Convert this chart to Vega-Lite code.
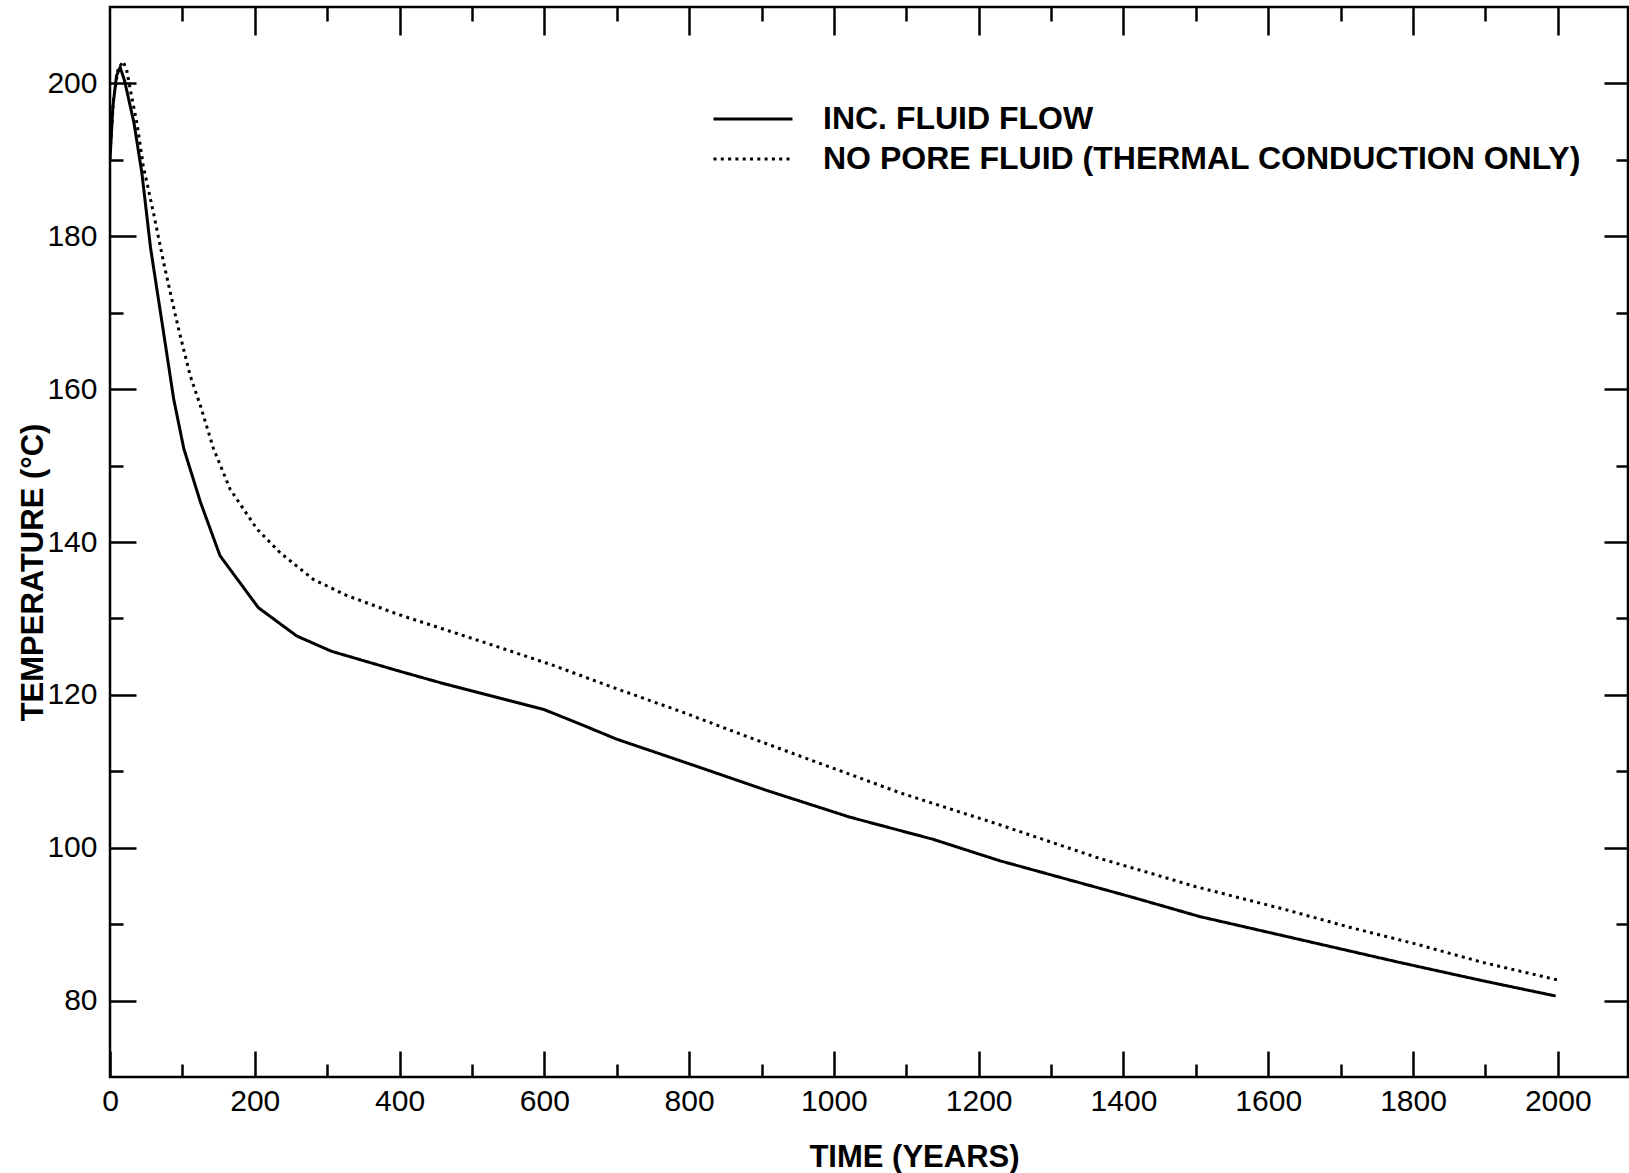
{
  "$schema": "https://vega.github.io/schema/vega-lite/v6.json",
  "width": 1518,
  "height": 1070,
  "autosize": {"type": "none"},
  "padding": {"left": 110, "top": 7, "right": 1, "bottom": 96},
  "background": "white",
  "config": {
    "view": {"stroke": "black", "strokeWidth": 2.5},
    "axis": {"grid": false, "domain": false, "tickColor": "black", "tickWidth": 2.5, "labelColor": "black", "titleColor": "black", "labelFont": "Liberation Sans", "titleFont": "Liberation Sans"},
    "line": {"color": "black", "strokeWidth": 3},
    "font": "Liberation Sans"
  },
  "data": {
    "values": [
      {"series": "INC. FLUID FLOW", "t": 0, "temp": 190},
      {"series": "INC. FLUID FLOW", "t": 4, "temp": 197},
      {"series": "INC. FLUID FLOW", "t": 9, "temp": 201},
      {"series": "INC. FLUID FLOW", "t": 14, "temp": 202.1},
      {"series": "INC. FLUID FLOW", "t": 20, "temp": 200.4},
      {"series": "INC. FLUID FLOW", "t": 33, "temp": 194.9},
      {"series": "INC. FLUID FLOW", "t": 44, "temp": 188.3},
      {"series": "INC. FLUID FLOW", "t": 56, "temp": 178.5},
      {"series": "INC. FLUID FLOW", "t": 74, "temp": 167.4},
      {"series": "INC. FLUID FLOW", "t": 88, "temp": 158.7},
      {"series": "INC. FLUID FLOW", "t": 102, "temp": 152.2},
      {"series": "INC. FLUID FLOW", "t": 125, "temp": 145.2},
      {"series": "INC. FLUID FLOW", "t": 152, "temp": 138.2},
      {"series": "INC. FLUID FLOW", "t": 205, "temp": 131.4},
      {"series": "INC. FLUID FLOW", "t": 258, "temp": 127.7},
      {"series": "INC. FLUID FLOW", "t": 306, "temp": 125.7},
      {"series": "INC. FLUID FLOW", "t": 396, "temp": 123.2},
      {"series": "INC. FLUID FLOW", "t": 456, "temp": 121.6},
      {"series": "INC. FLUID FLOW", "t": 525, "temp": 119.9},
      {"series": "INC. FLUID FLOW", "t": 599, "temp": 118.1},
      {"series": "INC. FLUID FLOW", "t": 654, "temp": 116.0},
      {"series": "INC. FLUID FLOW", "t": 700, "temp": 114.2},
      {"series": "INC. FLUID FLOW", "t": 815, "temp": 110.5},
      {"series": "INC. FLUID FLOW", "t": 907, "temp": 107.5},
      {"series": "INC. FLUID FLOW", "t": 1022, "temp": 104.0},
      {"series": "INC. FLUID FLOW", "t": 1137, "temp": 101.1},
      {"series": "INC. FLUID FLOW", "t": 1229, "temp": 98.3},
      {"series": "INC. FLUID FLOW", "t": 1321, "temp": 95.9},
      {"series": "INC. FLUID FLOW", "t": 1413, "temp": 93.5},
      {"series": "INC. FLUID FLOW", "t": 1505, "temp": 91.0},
      {"series": "INC. FLUID FLOW", "t": 1597, "temp": 89.0},
      {"series": "INC. FLUID FLOW", "t": 1689, "temp": 87.0},
      {"series": "INC. FLUID FLOW", "t": 1781, "temp": 85.0},
      {"series": "INC. FLUID FLOW", "t": 1896, "temp": 82.6},
      {"series": "INC. FLUID FLOW", "t": 1997, "temp": 80.6},
      {"series": "NO PORE FLUID (THERMAL CONDUCTION ONLY)", "t": 0, "temp": 191},
      {"series": "NO PORE FLUID (THERMAL CONDUCTION ONLY)", "t": 5, "temp": 198},
      {"series": "NO PORE FLUID (THERMAL CONDUCTION ONLY)", "t": 11, "temp": 201.8},
      {"series": "NO PORE FLUID (THERMAL CONDUCTION ONLY)", "t": 18, "temp": 202.9},
      {"series": "NO PORE FLUID (THERMAL CONDUCTION ONLY)", "t": 23, "temp": 201.8},
      {"series": "NO PORE FLUID (THERMAL CONDUCTION ONLY)", "t": 28, "temp": 199.2},
      {"series": "NO PORE FLUID (THERMAL CONDUCTION ONLY)", "t": 37, "temp": 194.9},
      {"series": "NO PORE FLUID (THERMAL CONDUCTION ONLY)", "t": 46, "temp": 189.2},
      {"series": "NO PORE FLUID (THERMAL CONDUCTION ONLY)", "t": 60, "temp": 183.1},
      {"series": "NO PORE FLUID (THERMAL CONDUCTION ONLY)", "t": 74, "temp": 176.6},
      {"series": "NO PORE FLUID (THERMAL CONDUCTION ONLY)", "t": 90, "temp": 169.8},
      {"series": "NO PORE FLUID (THERMAL CONDUCTION ONLY)", "t": 97, "temp": 167.0},
      {"series": "NO PORE FLUID (THERMAL CONDUCTION ONLY)", "t": 111, "temp": 161.7},
      {"series": "NO PORE FLUID (THERMAL CONDUCTION ONLY)", "t": 125, "temp": 157.8},
      {"series": "NO PORE FLUID (THERMAL CONDUCTION ONLY)", "t": 143, "temp": 152.2},
      {"series": "NO PORE FLUID (THERMAL CONDUCTION ONLY)", "t": 166, "temp": 146.9},
      {"series": "NO PORE FLUID (THERMAL CONDUCTION ONLY)", "t": 203, "temp": 141.7},
      {"series": "NO PORE FLUID (THERMAL CONDUCTION ONLY)", "t": 235, "temp": 138.6},
      {"series": "NO PORE FLUID (THERMAL CONDUCTION ONLY)", "t": 281, "temp": 135.1},
      {"series": "NO PORE FLUID (THERMAL CONDUCTION ONLY)", "t": 327, "temp": 133.0},
      {"series": "NO PORE FLUID (THERMAL CONDUCTION ONLY)", "t": 399, "temp": 130.5},
      {"series": "NO PORE FLUID (THERMAL CONDUCTION ONLY)", "t": 516, "temp": 126.9},
      {"series": "NO PORE FLUID (THERMAL CONDUCTION ONLY)", "t": 608, "temp": 124.0},
      {"series": "NO PORE FLUID (THERMAL CONDUCTION ONLY)", "t": 700, "temp": 120.8},
      {"series": "NO PORE FLUID (THERMAL CONDUCTION ONLY)", "t": 792, "temp": 117.7},
      {"series": "NO PORE FLUID (THERMAL CONDUCTION ONLY)", "t": 884, "temp": 114.4},
      {"series": "NO PORE FLUID (THERMAL CONDUCTION ONLY)", "t": 953, "temp": 112.0},
      {"series": "NO PORE FLUID (THERMAL CONDUCTION ONLY)", "t": 1091, "temp": 107.2},
      {"series": "NO PORE FLUID (THERMAL CONDUCTION ONLY)", "t": 1229, "temp": 103.0},
      {"series": "NO PORE FLUID (THERMAL CONDUCTION ONLY)", "t": 1367, "temp": 98.6},
      {"series": "NO PORE FLUID (THERMAL CONDUCTION ONLY)", "t": 1436, "temp": 96.7},
      {"series": "NO PORE FLUID (THERMAL CONDUCTION ONLY)", "t": 1500, "temp": 94.9},
      {"series": "NO PORE FLUID (THERMAL CONDUCTION ONLY)", "t": 1620, "temp": 92.0},
      {"series": "NO PORE FLUID (THERMAL CONDUCTION ONLY)", "t": 1712, "temp": 89.6},
      {"series": "NO PORE FLUID (THERMAL CONDUCTION ONLY)", "t": 1804, "temp": 87.4},
      {"series": "NO PORE FLUID (THERMAL CONDUCTION ONLY)", "t": 1896, "temp": 85.0},
      {"series": "NO PORE FLUID (THERMAL CONDUCTION ONLY)", "t": 2004, "temp": 82.6}
    ]
  },
  "resolve": {"scale": {"x": "shared", "y": "shared"}, "axis": {"x": "independent", "y": "independent"}},
  "layer": [
    {
      "mark": {"type": "line", "clip": true, "strokeCap": "butt"},
      "encoding": {
        "x": {"field": "t", "type": "quantitative",
          "scale": {"domain": [0, 2097], "nice": false, "zero": false},
          "axis": {"orient": "bottom", "values": [0, 200, 400, 600, 800, 1000, 1200, 1400, 1600, 1800, 2000], "format": "d", "tickSize": -26, "labelPadding": 35, "labelFontSize": 30, "labelFlush": false, "labelOverlap": false,
            "title": "TIME (YEARS)", "titleX": 804, "titleY": 89, "titleAlign": "center", "titleBaseline": "alphabetic", "titleFontSize": 31, "titleFontWeight": "bold"}},
        "y": {"field": "temp", "type": "quantitative",
          "scale": {"domain": [70, 210], "nice": false, "zero": false},
          "axis": {"orient": "left", "values": [80, 100, 120, 140, 160, 180, 200], "format": "d", "tickSize": -26, "labelPadding": 39, "labelFontSize": 30, "labelOverlap": false,
            "title": "TEMPERATURE (°C)", "titleX": -68, "titleY": 565, "titleAngle": 270, "titleAlign": "center", "titleBaseline": "alphabetic", "titleFontSize": 31, "titleFontWeight": "bold"}},
        "strokeDash": {"field": "series", "type": "nominal",
          "scale": {"domain": ["INC. FLUID FLOW", "NO PORE FLUID (THERMAL CONDUCTION ONLY)"], "range": [[1, 0], [3, 4.3]]},
          "legend": {"orient": "none", "legendX": 602, "legendY": 97, "title": null, "symbolType": "stroke", "symbolSize": 6241, "symbolStrokeWidth": 2, "symbolStrokeColor": "black", "labelOffset": 29, "clipHeight": 30, "rowPadding": 8, "padding": 0, "labelFontSize": 32, "labelFontWeight": "bold", "labelFont": "Liberation Sans", "labelColor": "black", "labelLimit": 0}}
      }
    },
    {
      "mark": {"type": "point", "opacity": 0},
      "encoding": {
        "x": {"field": "t", "type": "quantitative", "scale": {"domain": [0, 2097], "nice": false, "zero": false},
          "axis": {"orient": "bottom", "values": [100, 300, 500, 700, 900, 1100, 1300, 1500, 1700, 1900], "tickSize": -13, "labels": false, "title": null}},
        "y": {"field": "temp", "type": "quantitative", "scale": {"domain": [70, 210], "nice": false, "zero": false},
          "axis": {"orient": "left", "values": [90, 110, 130, 150, 170, 190], "tickSize": -13, "labels": false, "title": null}}
      }
    },
    {
      "mark": {"type": "point", "opacity": 0},
      "encoding": {
        "x": {"field": "t", "type": "quantitative", "scale": {"domain": [0, 2097], "nice": false, "zero": false},
          "axis": {"orient": "top", "values": [200, 400, 600, 800, 1000, 1200, 1400, 1600, 1800, 2000], "tickSize": -28, "labels": false, "title": null}},
        "y": {"field": "temp", "type": "quantitative", "scale": {"domain": [70, 210], "nice": false, "zero": false},
          "axis": {"orient": "right", "values": [80, 100, 120, 140, 160, 180, 200], "tickSize": -24, "labels": false, "title": null}}
      }
    },
    {
      "mark": {"type": "point", "opacity": 0},
      "encoding": {
        "x": {"field": "t", "type": "quantitative", "scale": {"domain": [0, 2097], "nice": false, "zero": false},
          "axis": {"orient": "top", "values": [100, 300, 500, 700, 900, 1100, 1300, 1500, 1700, 1900], "tickSize": -14, "labels": false, "title": null}},
        "y": {"field": "temp", "type": "quantitative", "scale": {"domain": [70, 210], "nice": false, "zero": false},
          "axis": {"orient": "right", "values": [90, 110, 130, 150, 170, 190], "tickSize": -12, "labels": false, "title": null}}
      }
    }
  ]
}
